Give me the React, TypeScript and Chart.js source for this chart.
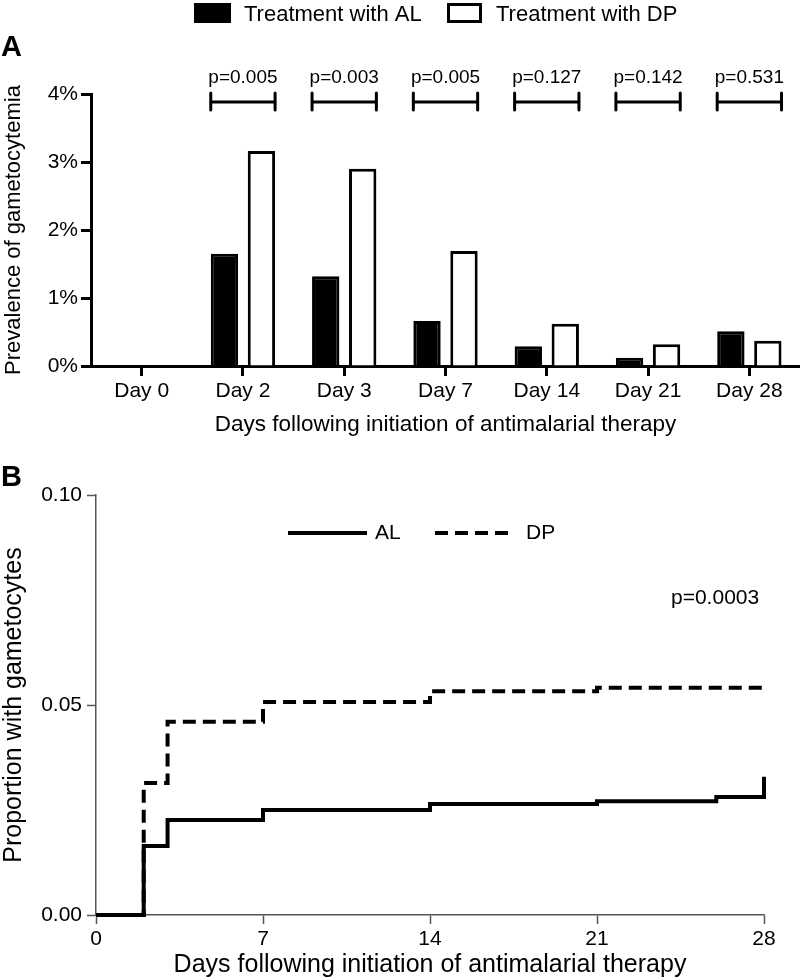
import React, { useEffect, useRef } from 'react';
import { Chart, registerables } from 'chart.js';

Chart.register(...registerables);

const FONT = '"Liberation Sans", Arial, Helvetica, sans-serif';

// Panel A data
const dayLabels = ['Day 0', 'Day 2', 'Day 3', 'Day 7', 'Day 14', 'Day 21', 'Day 28'];
const alPrevalence = [0, 1.65, 1.32, 0.66, 0.29, 0.12, 0.51];
const dpPrevalence = [0, 3.16, 2.9, 1.69, 0.62, 0.32, 0.37];
const pValueLabels = ['', 'p=0.005', 'p=0.003', 'p=0.005', 'p=0.127', 'p=0.142', 'p=0.531'];
const legendA = ['Treatment with AL', 'Treatment with DP'];

// Panel B data (step curves)
const alDays = [0, 2, 3, 7, 14, 21, 26, 28];
const alProportion = [0, 0.0164, 0.0226, 0.025, 0.0264, 0.0271, 0.0281, 0.0329];
const dpDays = [0, 2, 3, 7, 14, 21, 28];
const dpProportion = [0, 0.0314, 0.046, 0.0507, 0.0533, 0.0541, 0.0543];
const xTicksB = [0, 7, 14, 21, 28];
const pValueB = 'p=0.0003';

const PanelA: React.FC = () => {
  const ref = useRef<HTMLCanvasElement>(null);
  useEffect(() => {
    if (!ref.current) return;
    const annot = {
      id: 'annotA',
      afterDatasetsDraw(chart: any) {
        const ctx = chart.ctx;
        const m0 = chart.getDatasetMeta(0);
        const m1 = chart.getDatasetMeta(1);
        const top = chart.chartArea.top;
        ctx.save();
        ctx.strokeStyle = '#000';
        ctx.fillStyle = '#000';
        ctx.lineWidth = 3;
        ctx.lineCap = 'round';
        pValueLabels.forEach((lab, i) => {
          if (!lab) return;
          const b0 = m0.data[i];
          const b1 = m1.data[i];
          const l = b0.x - b0.width / 2;
          const r = b1.x + b1.width / 2;
          const y = top + 8;
          ctx.beginPath();
          ctx.moveTo(l, y);
          ctx.lineTo(r, y);
          ctx.moveTo(l, y - 9);
          ctx.lineTo(l, y + 8);
          ctx.moveTo(r, y - 9);
          ctx.lineTo(r, y + 8);
          ctx.stroke();
          ctx.font = `19px ${FONT}`;
          ctx.textAlign = 'center';
          ctx.textBaseline = 'alphabetic';
          ctx.fillText(lab, (l + r) / 2, y - 19);
        });
        ctx.restore();
      },
      afterDraw(chart: any) {
        const ctx = chart.ctx;
        ctx.save();
        ctx.fillStyle = '#000';
        ctx.font = `bold 29px ${FONT}`;
        ctx.textAlign = 'left';
        ctx.textBaseline = 'alphabetic';
        ctx.fillText('A', 1, 56);
        const ds = chart.data.datasets;
        ctx.fillStyle = ds[0].backgroundColor;
        ctx.fillRect(194, 3, 37, 20);
        ctx.fillStyle = ds[1].backgroundColor;
        ctx.fillRect(448.5, 4.5, 32, 17);
        ctx.strokeStyle = ds[1].borderColor;
        ctx.lineWidth = 3;
        ctx.strokeRect(448.5, 4.5, 32, 17);
        ctx.fillStyle = '#000';
        ctx.font = `22px ${FONT}`;
        ctx.fillText(legendA[0], 244, 21);
        ctx.fillText(legendA[1], 496, 21);
        ctx.restore();
      },
    };
    const chart = new Chart(ref.current, {
      type: 'bar',
      data: {
        labels: dayLabels,
        datasets: [
          {
            label: legendA[0],
            data: alPrevalence,
            backgroundColor: '#000',
            borderColor: '#000',
            borderWidth: 3,
            categoryPercentage: 0.73,
            barPercentage: 0.74,
          },
          {
            label: legendA[1],
            data: dpPrevalence,
            backgroundColor: '#fff',
            borderColor: '#000',
            borderWidth: 3,
            categoryPercentage: 0.73,
            barPercentage: 0.74,
          },
        ],
      },
      options: {
        responsive: false,
        animation: false,
        devicePixelRatio: 1,
        layout: { padding: { top: 94, right: 0, left: 0, bottom: 0 } },
        plugins: { legend: { display: false }, tooltip: { enabled: false } },
        scales: {
          x: {
            grid: {
              offset: false,
              drawOnChartArea: false,
              drawTicks: true,
              tickLength: 10,
              tickWidth: 3,
              tickColor: '#000',
            },
            border: { display: true, width: 3, color: '#000' },
            ticks: { color: '#000', font: { family: FONT, size: 21 }, padding: 3, maxRotation: 0 },
            title: {
              display: true,
              text: 'Days following initiation of antimalarial therapy',
              color: '#000',
              font: { family: FONT, size: 22.5, lineHeight: 1 },
              padding: { top: 0, bottom: 24 },
            },
            afterFit: (s: any) => {
              s.height = 94;
            },
          },
          y: {
            min: 0,
            max: 4,
            grid: {
              drawOnChartArea: false,
              drawTicks: true,
              tickLength: 10,
              tickWidth: 3,
              tickColor: '#000',
            },
            border: { display: true, width: 3, color: '#000' },
            ticks: {
              stepSize: 1,
              color: '#000',
              font: { family: FONT, size: 21 },
              padding: 3,
              callback: (v: any) => `${v}%`,
            },
            title: {
              display: true,
              text: 'Prevalence of gametocytemia',
              color: '#000',
              font: { family: FONT, size: 22, lineHeight: 1 },
              padding: { top: 3, bottom: 0 },
            },
            afterFit: (s: any) => {
              s.width = 91;
            },
          },
        },
      },
      plugins: [annot],
    });
    return () => chart.destroy();
  }, []);
  return <canvas ref={ref} width={800} height={460} style={{ display: 'block', width: 800, height: 460 }} />;
};

const PanelB: React.FC = () => {
  const ref = useRef<HTMLCanvasElement>(null);
  useEffect(() => {
    if (!ref.current) return;
    const annot = {
      id: 'annotB',
      afterDraw(chart: any) {
        const ctx = chart.ctx;
        const ds = chart.data.datasets;
        ctx.save();
        ctx.fillStyle = '#000';
        ctx.font = `bold 29px ${FONT}`;
        ctx.textAlign = 'left';
        ctx.textBaseline = 'alphabetic';
        ctx.fillText('B', 1, 26);
        const ly = 73;
        ctx.lineWidth = 4;
        ctx.strokeStyle = ds[0].borderColor;
        ctx.setLineDash([]);
        ctx.beginPath();
        ctx.moveTo(288, ly);
        ctx.lineTo(367, ly);
        ctx.stroke();
        ctx.strokeStyle = ds[1].borderColor;
        ctx.setLineDash(ds[1].borderDash);
        ctx.beginPath();
        ctx.moveTo(435, ly);
        ctx.lineTo(513, ly);
        ctx.stroke();
        ctx.setLineDash([]);
        ctx.font = `21px ${FONT}`;
        ctx.textBaseline = 'middle';
        ctx.fillText(ds[0].label, 375, ly);
        ctx.fillText(ds[1].label, 526, ly);
        ctx.fillText(pValueB, 671, 138);
        ctx.restore();
      },
    };
    const chart = new Chart(ref.current, {
      type: 'line',
      data: {
        datasets: [
          {
            label: 'AL',
            data: alDays.map((d, i) => ({ x: d, y: alProportion[i] })),
            borderColor: '#000',
            borderWidth: 4,
            stepped: 'before',
            pointRadius: 0,
            fill: false,
            clip: false as any,
            borderCapStyle: 'butt',
          },
          {
            label: 'DP',
            data: dpDays.map((d, i) => ({ x: d, y: dpProportion[i] })),
            borderColor: '#000',
            borderWidth: 4,
            borderDash: [13, 7],
            stepped: 'before',
            pointRadius: 0,
            fill: false,
            clip: false as any,
            borderCapStyle: 'butt',
          },
        ],
      },
      options: {
        responsive: false,
        animation: false,
        devicePixelRatio: 1,
        layout: { padding: { top: 35, right: 36, left: 0, bottom: 0 } },
        plugins: { legend: { display: false }, tooltip: { enabled: false } },
        scales: {
          x: {
            type: 'linear',
            min: 0,
            max: 28,
            afterBuildTicks: (s: any) => {
              s.ticks = xTicksB.map((v) => ({ value: v }));
            },
            grid: {
              drawOnChartArea: false,
              drawTicks: true,
              tickLength: 9,
              tickWidth: 1.5,
              tickColor: '#555',
            },
            border: { display: true, width: 1.5, color: '#555' },
            ticks: { color: '#000', font: { family: FONT, size: 21 }, padding: 3, maxRotation: 0 },
            title: {
              display: true,
              text: 'Days following initiation of antimalarial therapy',
              color: '#000',
              font: { family: FONT, size: 25, lineHeight: 1 },
              padding: { top: 0, bottom: 2 },
            },
            afterFit: (s: any) => {
              s.height = 65;
            },
          },
          y: {
            min: 0,
            max: 0.1,
            grid: {
              drawOnChartArea: false,
              drawTicks: true,
              tickLength: 9,
              tickWidth: 1.5,
              tickColor: '#555',
            },
            border: { display: true, width: 1.5, color: '#555' },
            ticks: {
              stepSize: 0.05,
              color: '#000',
              font: { family: FONT, size: 21 },
              padding: 5,
              callback: (v: any) => Number(v).toFixed(2),
            },
            title: {
              display: true,
              text: 'Proportion with gametocytes',
              color: '#000',
              font: { family: FONT, size: 25, lineHeight: 1 },
              padding: { top: 2, bottom: 0 },
            },
            afterFit: (s: any) => {
              s.width = 96;
            },
          },
        },
      },
      plugins: [annot],
    });
    return () => chart.destroy();
  }, []);
  return <canvas ref={ref} width={800} height={520} style={{ display: 'block', width: 800, height: 520 }} />;
};

export default function App() {
  return (
    <div style={{ position: 'absolute', left: 0, top: 0, width: 800, height: 980, background: '#fff' }}>
      <PanelA />
      <PanelB />
    </div>
  );
}
